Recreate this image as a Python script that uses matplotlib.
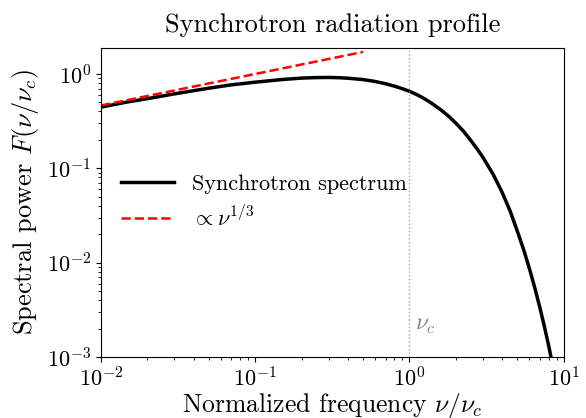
import matplotlib
matplotlib.use("Agg")
import matplotlib.pyplot as plt

# values (nu / nu_c, F)
x_sync = [0.01, 0.015, 0.02, 0.03, 0.04, 0.05, 0.07, 0.1, 0.15, 0.2, 0.25, 0.3,
          0.35, 0.4, 0.5, 0.6, 0.7, 0.8, 0.9, 1.0, 1.1, 1.2, 1.3, 1.4, 1.6, 1.8,
          2.0, 2.25, 2.5, 2.75, 3.0, 3.5, 4.0, 4.5, 5.0, 5.5, 6.0, 6.5, 7.0,
          7.5, 8.0, 8.4]
f_sync = [0.445, 0.506, 0.547, 0.615, 0.665, 0.706, 0.766, 0.818, 0.873, 0.904,
          0.915, 0.918, 0.912, 0.901, 0.872, 0.832, 0.788, 0.742, 0.698, 0.655,
          0.611, 0.568, 0.526, 0.486, 0.416, 0.355, 0.301, 0.245, 0.197, 0.160,
          0.130, 0.0855, 0.0550, 0.0350, 0.0216, 0.0137, 0.00858, 0.00537,
          0.00335, 0.00209, 0.00130, 0.00088]
x_pow = [0.01, 0.5]
f_pow = [0.463, 1.71]

plt.rcParams['font.family'] = 'serif'
plt.rcParams['font.serif'] = ['cmr10']
plt.rcParams['mathtext.fontset'] = 'cm'
plt.rcParams['axes.formatter.use_mathtext'] = True
plt.rcParams['axes.unicode_minus'] = False

fig = plt.figure(figsize=(5.86, 4.18), dpi=100)
ax = fig.add_axes([0.172, 0.146, 0.79, 0.74])

ax.plot(x_sync, f_sync, color='black', lw=2.5, label='Synchrotron spectrum')
ax.plot(x_pow, f_pow, color='red', ls='--', lw=1.8, label=r'$\propto \nu^{1/3}$')
ax.axvline(1.0, color='gray', ls=':', lw=1, alpha=0.7)
ax.text(1.08, 1.65e-3, r'$\nu_c$', color='gray', fontsize=17, va='bottom')

ax.set_xscale('log')
ax.set_yscale('log')
ax.set_xlim(1e-2, 10)
ax.set_ylim(1e-3, 1.9)
ax.tick_params(labelsize=16)

ax.set_title('Synchrotron radiation profile', fontsize=19, pad=11)
ax.set_xlabel(r'Normalized frequency $\nu/\nu_c$', fontsize=18.5, labelpad=0)
ax.set_ylabel(r'Spectral power $F(\nu/\nu_c)$', fontsize=19)
ax.legend(loc='center left', frameon=False, fontsize=16, handlelength=2.4)

fig.savefig('out.png', dpi=100)
